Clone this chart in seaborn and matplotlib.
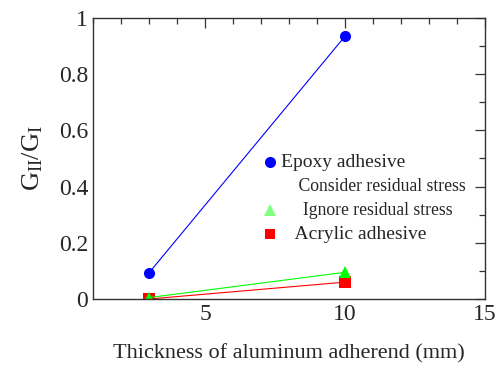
import pandas as pd
import seaborn as sns
import matplotlib.pyplot as plt
import matplotlib.ticker as ticker
from matplotlib.lines import Line2D

# data
thickness = [3, 10]
epoxy = [0.093, 0.935]
acrylic = [0.0, 0.06]
ignore_rs = [0.005, 0.095]

sns.set_style('white')
plt.rcParams['font.family'] = ['Liberation Serif', 'DejaVu Serif']
plt.rcParams['mathtext.fontset'] = 'custom'
plt.rcParams['mathtext.rm'] = 'Liberation Serif'

df = pd.DataFrame({
    'thickness': thickness * 3,
    'ratio': epoxy + acrylic + ignore_rs,
    'series': ['epoxy'] * 2 + ['acrylic'] * 2 + ['ignore'] * 2,
})

fig = plt.figure(figsize=(5.01, 3.67), dpi=100)
ax = fig.add_axes([0.1856, 0.1853, 0.7824, 0.7657])

colors = {'epoxy': '#0000ff', 'acrylic': '#ff0000', 'ignore': '#00ff00'}
marks = {'epoxy': 'o', 'acrylic': 's', 'ignore': '^'}
sns.lineplot(data=df, x='thickness', y='ratio', hue='series', style='series',
             palette=colors, markers=marks, dashes=False, markersize=8,
             markeredgewidth=0, linewidth=0.8, legend=False, ax=ax)

ax.set_xlim(1, 15)
ax.set_ylim(0, 1)
ax.xaxis.set_major_locator(ticker.MultipleLocator(5))
ax.xaxis.set_minor_locator(ticker.MultipleLocator(1))
ax.yaxis.set_major_locator(ticker.MultipleLocator(0.2))
ax.yaxis.set_minor_locator(ticker.MultipleLocator(0.1))
ax.yaxis.set_major_formatter(ticker.FormatStrFormatter('%g'))
ax.xaxis.set_major_formatter(ticker.FormatStrFormatter('%g'))
ax.tick_params(which='both', direction='in', top=True, right=True,
               labelsize=17, color='#333333')
ax.tick_params(which='major', length=7, width=0.9)
ax.tick_params(which='minor', length=4, width=0.9)
for s in ax.spines.values():
    s.set_color('#333333')
    s.set_linewidth(1.0)

ax.set_xlabel('Thickness of aluminum adherend (mm)', fontsize=16, labelpad=14)
ax.set_ylabel(r'$\mathrm{G_{II}/G_{I}}$', fontsize=19, labelpad=10)

handles = [
    Line2D([], [], color='#0000ff', marker='o', linestyle='none', markersize=8, markeredgewidth=0),
    Line2D([], [], color='none', marker='none', linestyle='none'),
    Line2D([], [], color='#80ff80', marker='^', linestyle='none', markersize=8, markeredgewidth=0),
    Line2D([], [], color='#ff0000', marker='s', linestyle='none', markersize=7, markeredgewidth=0),
]
labels = ['Epoxy adhesive', '    Consider residual stress', '     Ignore residual stress', '   Acrylic adhesive']
leg = ax.legend(handles, labels, loc='upper left', bbox_to_anchor=(0.41, 0.535),
                frameon=False, handletextpad=0.1, labelspacing=0.5,
                handlelength=1.5, borderaxespad=0)
sizes = [14, 12.7, 12.7, 14]
for t, fs in zip(leg.get_texts(), sizes):
    t.set_fontsize(fs)

plt.savefig('out.png', dpi=100)
